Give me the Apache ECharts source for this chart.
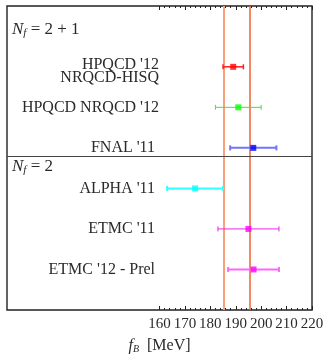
<!DOCTYPE html>
<html>
<head>
  <meta charset="UTF-8">
  <title>f_B comparison</title>
  <style>
    *{ margin: 0; padding: 0; }
    body{ background: #ffffff; }
    #chart{ width: 327px; height: 354px; }
  </style>
</head>
<body>
<div id="chart"></div>
<script src="https://cdn.jsdelivr.net/npm/echarts@6/dist/echarts.min.js"></script>
<script>
  // 数据：从上到下
  var names = ["HPQCD '12\nNRQCD-HISQ", "HPQCD NRQCD '12", "FNAL '11", "ALPHA '11", "ETMC '11", "ETMC '12 - Prel"];
  var rows = [6, 5, 4, 3, 2, 1];            // y 位置
  var centers = [189, 191, 196.9, 174, 195, 197];
  var errors = [4, 9, 9.1, 11, 12, 10];
  var markColors = ['#ff0000', '#00ff00', '#0000ff', '#00ffff', '#ff00ff', '#ff00ff'];
  var barColors = ['#ff2020', '#33ee33', '#7373ff', '#33ffff', '#ee22ee', '#ff66ff'];
  var barWidths = [1.5, 1, 2, 2, 1, 2];
  var bandEdges = [185.3, 195.5];           // 竖线
  var groupLabels = ['N_f = 2 + 1', 'N_f = 2'];
  var groupRows = [6.91, 3.53];
  var dividerRow = 3.8;
  var tickLabels = [160, 170, 180, 190, 200, 210, 220];
  var minorTicks = [];
  for (var t = 162; t < 220; t += 2) { if (t % 10 !== 0) minorTicks.push(t); }

  var font = 'Liberation Serif';
  var textColor = '#2a2a2a';

  var chart = echarts.init(document.getElementById('chart'));

  var barData = centers.map(function (c, i) {
    return [c - errors[i], c + errors[i], rows[i], i];
  });

  var gridBox = { left: 7, right: 15, top: 6, bottom: 44, outerBoundsMode: 'none', containLabel: false };

  var option = {
    animation: false,
    grid: [
      Object.assign({ show: true, borderColor: '#222', borderWidth: 1.4, backgroundColor: 'transparent' }, gridBox),
      Object.assign({}, gridBox)
    ],
    xAxis: [
      { // 主刻度 + 标签
        type: 'value', gridIndex: 0, position: 'bottom', min: 100, max: 220, interval: 10,
        splitLine: { show: false }, axisLine: { show: false },
        axisTick: { show: true, inside: true, length: 4, customValues: tickLabels, lineStyle: { color: '#222' } },
        axisLabel: { customValues: tickLabels, fontFamily: font, fontSize: 15, color: textColor, margin: 7 },
        name: '{i|f}{s|B}{n|  [MeV]}', nameLocation: 'middle', nameGap: 28,
        nameTextStyle: {
          rich: {
            i: { fontFamily: font, fontStyle: 'italic', fontSize: 16, color: textColor },
            s: { fontFamily: font, fontStyle: 'italic', fontSize: 10, color: textColor, padding: [6, 0, 0, 0] },
            n: { fontFamily: font, fontSize: 16, color: textColor }
          }
        }
      },
      {
        type: 'value', gridIndex: 0, position: 'top', min: 100, max: 220, interval: 10,
        splitLine: { show: false }, axisLine: { show: false }, axisLabel: { show: false },
        axisTick: { show: true, inside: true, length: 4, customValues: tickLabels, lineStyle: { color: '#222' } }
      },
      { // 次刻度
        type: 'value', gridIndex: 1, position: 'bottom', min: 100, max: 220, interval: 10,
        splitLine: { show: false }, axisLine: { show: false }, axisLabel: { show: false },
        axisTick: { show: true, inside: true, length: 2, customValues: minorTicks, lineStyle: { color: '#222' } }
      },
      {
        type: 'value', gridIndex: 1, position: 'top', min: 100, max: 220, interval: 10,
        splitLine: { show: false }, axisLine: { show: false }, axisLabel: { show: false },
        axisTick: { show: true, inside: true, length: 2, customValues: minorTicks, lineStyle: { color: '#222' } }
      }
    ],
    yAxis: [
      { // 文献名
        type: 'value', gridIndex: 0, min: 0, max: 7.5, position: 'left', offset: -152,
        splitLine: { show: false }, axisLine: { show: false }, axisTick: { show: false },
        axisLabel: {
          customValues: rows, margin: 0, align: 'right',
          formatter: function (v) {
            var i = rows.indexOf(v);
            if (i === 0) return '{two|' + names[0] + '}';
            if (i === 1) return '{a|' + names[1] + '}';
            return '{b|' + names[i] + '}';
          },
          rich: {
            two: { fontFamily: font, fontSize: 16, color: textColor, lineHeight: 13, padding: [8, 0, 0, 0] },
            a: { fontFamily: font, fontSize: 16, color: textColor },
            b: { fontFamily: font, fontSize: 16, color: textColor, padding: [0, 4, 0, 0] }
          }
        }
      },
      { // N_f 标签
        type: 'value', gridIndex: 1, min: 0, max: 7.5, position: 'left',
        splitLine: { show: false }, axisLine: { show: false }, axisTick: { show: false },
        axisLabel: {
          customValues: groupRows, inside: true, margin: 5,
          formatter: function (v) {
            var s = groupLabels[groupRows.indexOf(v)];
            return '{i|N}{s|f}{n|' + s.slice(3) + '}';
          },
          rich: {
            i: { fontFamily: font, fontStyle: 'italic', fontSize: 17, color: textColor },
            s: { fontFamily: font, fontStyle: 'italic', fontSize: 11, color: textColor, padding: [7, 0, 0, 0] },
            n: { fontFamily: font, fontSize: 17, color: textColor }
          }
        }
      }
    ],
    series: [
      {
        type: 'custom', xAxisIndex: 0, yAxisIndex: 0, data: barData, z: 5,
        renderItem: function (params, api) {
          var i = api.value(3);
          var p0 = api.coord([api.value(0), api.value(2)]);
          var p1 = api.coord([api.value(1), api.value(2)]);
          var h = 2.5;
          var st = { stroke: barColors[i], lineWidth: barWidths[i] };
          return {
            type: 'group',
            children: [
              { type: 'line', shape: { x1: p0[0], y1: p0[1], x2: p1[0], y2: p1[1] }, style: st },
              { type: 'line', shape: { x1: p0[0], y1: p0[1] - h, x2: p0[0], y2: p0[1] + h }, style: st },
              { type: 'line', shape: { x1: p1[0], y1: p1[1] - h, x2: p1[0], y2: p1[1] + h }, style: st }
            ]
          };
        },
        markLine: {
          silent: true, symbol: 'none', label: { show: false },
          data: [
            { xAxis: bandEdges[0], lineStyle: { color: '#f9a07c', width: 2, type: 'solid' } },
            { xAxis: bandEdges[1], lineStyle: { color: '#f0622e', width: 1.5, type: 'solid' } },
            { yAxis: dividerRow, lineStyle: { color: '#444', width: 1.2, type: 'solid' } }
          ]
        }
      },
      {
        type: 'scatter', xAxisIndex: 0, yAxisIndex: 0, symbol: 'rect', symbolSize: 6, z: 6,
        data: centers.map(function (c, i) {
          return { value: [c, rows[i]], itemStyle: { color: markColors[i] } };
        })
      }
    ]
  };

  chart.setOption(option);
</script>
</body>
</html>
